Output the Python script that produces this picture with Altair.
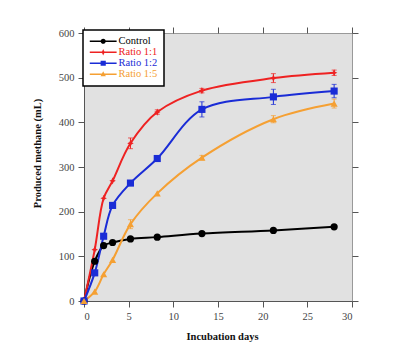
import altair as alt
import pandas as pd

series = ["Control", "Ratio 1:1", "Ratio 1:2", "Ratio 1:5"]
colors = ["#000000", "#ee2222", "#1a2cd6", "#f5a033"]
days = [0, 1.2, 2.2, 3.2, 5.2, 8.2, 13.2, 21.2, 28]
control = [0, 89, 124, 131, 139, 143, 151, 158, 166]
ratio11 = [0, 115, 230, 269, 353, 423, 471, 499, 511]
ratio12 = [0, 63, 145, 214, 264, 319, 429, 457, 470]
ratio15 = [0, 21, 60, 92, 172, 241, 321, 407, 442]
err11 = [0, 0, 0, 0, 12, 5, 5, 10, 6]
err12 = [0, 0, 0, 0, 0, 0, 17, 17, 15]
err15 = [0, 0, 0, 0, 10, 0, 5, 8, 10]
err0 = [0] * 9

rows = []
for name, vals, errs in zip(series, [control, ratio11, ratio12, ratio15],
                            [err0, err11, err12, err15]):
    for d, v, e in zip(days, vals, errs):
        rows.append({"series": name, "day": d, "mL": v, "lo": v - e, "hi": v + e, "err": e})
df = pd.DataFrame(rows)

FONT = "Liberation Serif"
xs = alt.Scale(domain=[0, 30], nice=False)
ys = alt.Scale(domain=[0, 600], nice=False)
col = alt.Scale(domain=series, range=colors)

shape_paths = [
    "circle",
    "M0,-1L0.3,-0.3L0.9,0L0.3,0.3L0,1L-0.3,0.3L-0.9,0L-0.3,-0.3Z",
    "square",
    "triangle-up",
]
BAR = "M-1,-0.18H5V0.18H-1Z"
legend_paths = [
    BAR + "M2.58,0A0.58,0.58,0,1,1,1.42,0A0.58,0.58,0,1,1,2.58,0Z",
    BAR + "M2,-0.75L2.22,-0.22L2.7,0L2.22,0.22L2,0.75L1.78,0.22L1.3,0L1.78,-0.22Z",
    BAR + "M1.42,-0.58H2.58V0.58H1.42Z",
    BAR + "M2,-0.65L2.6,0.45H1.4Z",
]

xaxis = alt.Axis(title="Incubation days", values=[0, 5, 10, 15, 20, 25, 30], grid=False,
                 titleX=138, titleY=30)
yaxis = alt.Axis(title="Produced methane (mL)", values=[0, 100, 200, 300, 400, 500, 600],
                 grid=False, titleX=-42, titleY=120)

base = alt.Chart(df)
X = alt.X("day:Q", scale=xs, axis=xaxis)
Y = alt.Y("mL:Q", scale=ys, axis=yaxis)
C = alt.Color("series:N", scale=col, legend=None)

lines = base.mark_line(interpolate="catmull-rom", strokeWidth=2).encode(x=X, y=Y, color=C, detail="series:N")
errs = base.transform_filter("datum.err > 0").mark_errorbar(ticks=True, thickness=1).encode(
    x=X, y=alt.Y("lo:Q", scale=ys, axis=yaxis), y2="hi:Q", color=C)
pts = base.mark_point(filled=True, opacity=1).encode(
    x=X, y=Y, color=C,
    shape=alt.Shape("series:N", scale=alt.Scale(domain=series, range=shape_paths), legend=None),
    size=alt.Size("series:N", scale=alt.Scale(domain=series, range=[52, 50, 70, 32]), legend=None),
)
main = alt.layer(lines, errs, pts)

color_expr = ("datum.label == 'Control' ? '#000000' : datum.label == 'Ratio 1:1' ? '#ee2222' : "
              "datum.label == 'Ratio 1:2' ? '#1a2cd6' : '#f5a033'")
leg = alt.Legend(title=None, orient="none", legendX=-1, legendY=-3, padding=6,
                 fillColor="white", strokeColor="black", symbolSize=80, symbolStrokeWidth=0,
                 symbolOpacity=1, labelOffset=19, rowPadding=0, labelFont=FONT, labelFontSize=10.5,
                 labelColor={"expr": color_expr})
legend_layer = alt.Chart(df).transform_filter("datum.day == 0").mark_point(opacity=0, filled=True).encode(
    x=alt.X("day:Q", scale=xs, axis=alt.Axis(orient="top", labels=False, title=None, grid=False,
                                             values=[0, 5, 10, 15, 20, 25, 30], domain=False)),
    y=alt.Y("mL:Q", scale=ys, axis=alt.Axis(orient="right", labels=False, title=None, grid=False,
                                            values=[0, 100, 200, 300, 400, 500, 600], domain=False)),
    color=alt.Color("series:N", scale=alt.Scale(domain=series, range=colors), legend=leg),
    shape=alt.Shape("series:N", scale=alt.Scale(domain=series, range=legend_paths), legend=leg),
)

chart = alt.layer(main, legend_layer).resolve_axis(x="independent", y="independent").resolve_scale(
    shape="independent", color="independent"
).properties(
    width=268, height=268, autosize="none",
    padding={"left": 76, "top": 25, "right": 46, "bottom": 54},
).configure_view(fill="#e1e1e1", stroke="#999999", strokeWidth=1).configure_axis(
    labelFont=FONT, labelFontSize=10.5, labelColor="#444444", titleFont=FONT, titleFontSize=10.5,
    titleFontWeight="bold", titleColor="#111111", tickColor="#555555", domainColor="#555555",
    tickSize=6, labelPadding=4,
).configure_legend(strokeWidth=1.5, labelFont=FONT)

chart.save("out.html", embed_options={"renderer": "svg", "actions": False})
